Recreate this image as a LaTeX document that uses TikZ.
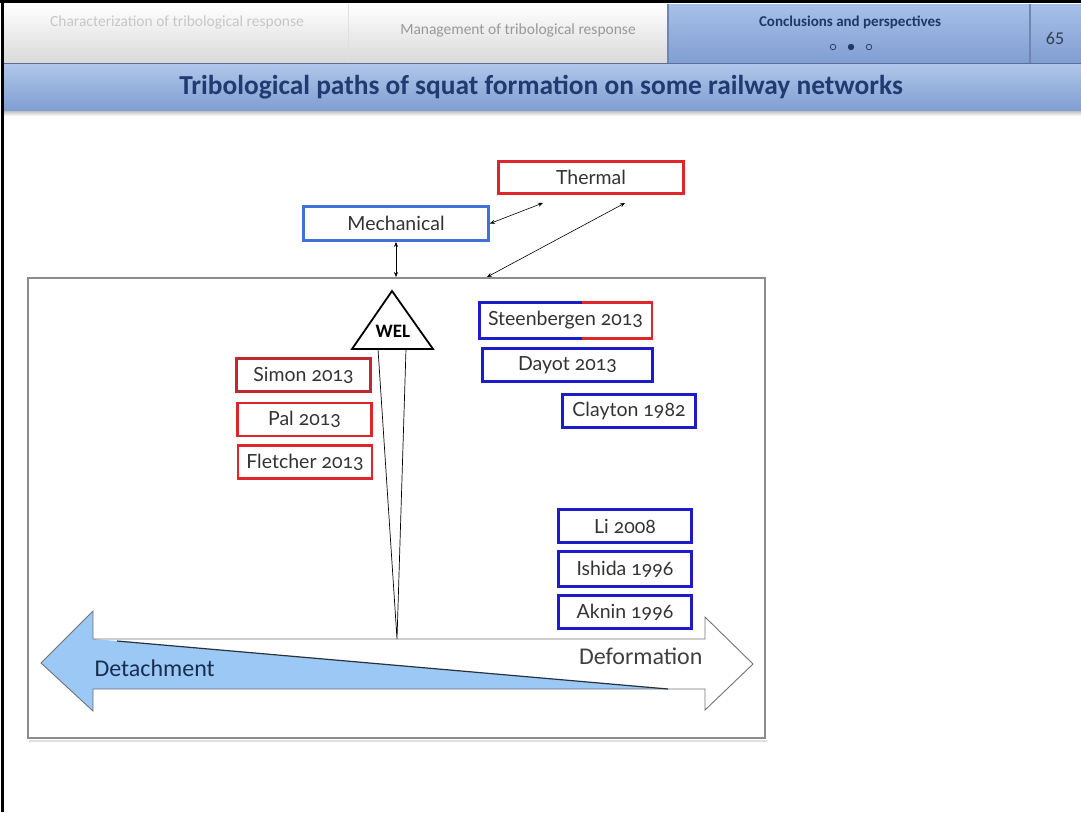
\documentclass[tikz,border=0pt]{standalone}
\usepackage{fontspec}
\setmainfont{Carlito}
\newfontfamily\boxfont{Lato}[Numbers=OldStyle]
\usetikzlibrary{arrows.meta}
\definecolor{redbox}{RGB}{222,38,42}
\definecolor{redboxdark}{RGB}{192,40,45}
\definecolor{bluebox}{RGB}{28,28,200}
\definecolor{mechblue}{RGB}{66,112,216}
\definecolor{navy}{RGB}{31,56,100}
\definecolor{titleblue}{RGB}{33,58,112}
\definecolor{arrowfill}{RGB}{155,200,245}
\definecolor{tabtop}{RGB}{168,192,232}
\definecolor{tabbot}{RGB}{128,158,210}
\begin{document}
\begin{tikzpicture}[x=1pt,y=-1pt,
  refbox/.style={draw, line width=2.6pt, minimum height=33pt, inner sep=0pt,
    font=\boxfont\fontsize{19.5}{22}\selectfont, text=black!80},
  redref/.style={refbox, draw=redbox},
  blueref/.style={refbox, draw=bluebox},
  biarrow/.style={{Stealth[length=5pt,width=4pt]}-{Stealth[length=5pt,width=4pt]}, line width=0.6pt},
  headtxt/.style={font=\fontsize{15.5}{18}\selectfont}]
\useasboundingbox (0,0) rectangle (1081,812);
% header
\shade[top color=white, bottom color=black!15] (4,4) rectangle (348,63);
\shade[top color=white, bottom color=black!15] (348,4) rectangle (668,63);
\shade[top color=tabtop, bottom color=tabbot] (668,4) rectangle (1081,63);
\draw[black!12, line width=1pt] (348,4) -- (348,63);
\draw[tabbot!85!black, line width=1.5pt] (668,4) -- (668,63);
\draw[tabbot!85!black, line width=1.5pt] (1030,4) -- (1030,63);
\shade[top color=tabtop!90!white, bottom color=tabbot] (4,63) rectangle (1081,111);
\draw[tabbot!70!black, line width=1pt] (4,63.5) -- (1081,63.5);
\shade[top color=black!25, bottom color=white] (4,111) rectangle (1081,116);
\node[headtxt, text=black!22] (tab1) at (177,22) {Characterization of tribological response};
\node[headtxt, text=black!40] (tab2) at (518,30) {Management of tribological response};
\node[headtxt, text=navy, font=\bfseries\fontsize{15}{18}\selectfont] (tab3) at (850,22) {Conclusions and perspectives};
\draw[navy, line width=0.7pt] (833,47) circle (2.8pt);
\fill[navy] (851,47) circle (3.2pt);
\draw[navy, line width=0.7pt] (869,47) circle (2.8pt);
\node[text=black!60!tabbot, font=\fontsize{18}{20}\selectfont] (page) at (1055,38) {65};
\node[text=titleblue, font=\bfseries\fontsize{27.4}{30}\selectfont] (title) at (541,87) {Tribological paths of squat formation on some railway networks};
\draw[line width=2.4pt] (0,1.5) -- (1081,1.5);
\draw[line width=2.6pt] (2.5,0) -- (2.5,812);
% frame
\draw[black!12, line width=2pt] (29,741) -- (767,741);
\draw[black!45, line width=1.2pt] (28,278) rectangle (765,738);
% top boxes
\node[draw=mechblue, line width=2.8pt, minimum width=185pt, minimum height=34pt, inner sep=0pt,
  font=\boxfont\fontsize{19.5}{22}\selectfont, text=black!80] (mech) at (396,223.5) {Mechanical};
\node[draw=redbox, line width=2.8pt, minimum width=185pt, minimum height=32pt, inner sep=0pt,
  font=\boxfont\fontsize{19.5}{22}\selectfont, text=black!80] (therm) at (591,177.5) {Thermal};
\coordinate (t1) at (543,203);
\coordinate (t2) at (625,203);
\coordinate (fm) at (396,277);
\coordinate (f2) at (487,277);
\draw[biarrow] (mech.east) -- (t1);
\draw[biarrow] (mech.south) -- (fm);
\draw[biarrow] (t2) -- (f2);
% big double arrow
\fill[arrowfill] (41,663) -- (93,611) -- (93,639) -- (117,641) -- (668,689) -- (93,689) -- (93,711) -- cycle;
\draw[black!55, line width=0.9pt] (41,663) -- (93,611) -- (93,639) -- (705,639) -- (705,617) -- (753,664)
  -- (705,710) -- (705,689) -- (93,689) -- (93,711) -- cycle;
\draw[black!75!arrowfill, line width=1.2pt] (117,641) -- (668,689);
\node[text=navy!80!black, font=\fontsize{24}{26}\selectfont, anchor=west] (detach) at (91,668) {Detachment};
\node[text=black!75, font=\fontsize{24}{26}\selectfont, anchor=east] (deform) at (706,656) {Deformation};
% WEL
\draw[line width=0.7pt] (378,349) -- (397,639) -- (406,349);
\draw[line width=1.8pt, line join=miter] (392,291) -- (433,349) -- (352,349) -- cycle;
\node[font=\bfseries\fontsize{19}{20}\selectfont] (wel) at (393,331) {WEL};
% red references
\node[refbox, draw=redboxdark, minimum width=134pt] (simon) at (303.5,375) {Simon 2013};
\node[redref, minimum width=134pt] (pal) at (304.5,419.5) {Pal 2013};
\node[redref, minimum width=134pt] (fletcher) at (305,462) {Fletcher 2013};
% blue references
\node[refbox, draw=none, minimum width=170pt] (steen) at (565.5,320.5) {Steenbergen 2013};
\coordinate (split) at (582,320);
\draw[bluebox, line width=2.6pt] (split |- steen.north) -- (steen.north west) -- (steen.south west) -- (split |- steen.south);
\draw[redbox, line width=2.6pt] (split |- steen.north) -- (steen.north east) -- (steen.south east) -- (split |- steen.south);
\node[blueref, minimum width=170pt] (dayot) at (567.5,365) {Dayot 2013};
\node[blueref, minimum width=133pt] (clayton) at (629,411) {Clayton 1982};
\node[blueref, minimum width=133pt] (li) at (625,526) {Li 2008};
\node[blueref, minimum width=133pt, minimum height=35pt] (ishida) at (625,569) {Ishida 1996};
\node[blueref, minimum width=133pt] (aknin) at (625,612) {Aknin 1996};
\end{tikzpicture}
\end{document}
